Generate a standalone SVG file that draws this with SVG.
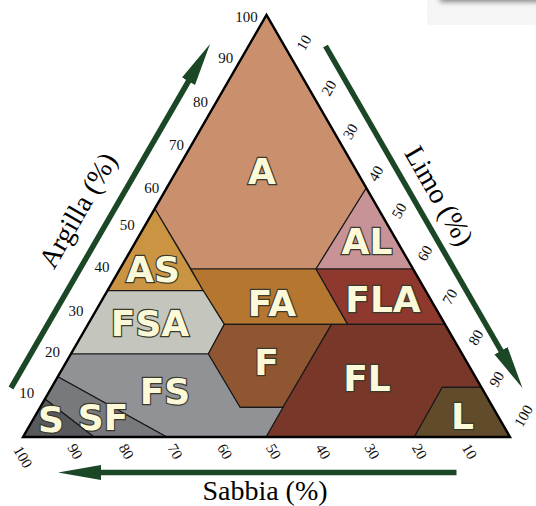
<svg xmlns="http://www.w3.org/2000/svg" width="536" height="506" viewBox="0 0 536 506">
<defs>
<style>
.reg{stroke:#1a1a1a;stroke-width:1.2;stroke-linejoin:round}
.lbl{font-family:"DejaVu Sans","Liberation Sans",sans-serif;font-weight:bold;font-size:36px;fill:#fbf9d8;stroke:#3b3a2c;stroke-width:2.4;paint-order:stroke fill;text-anchor:middle}
.tick{font-family:"Liberation Serif","Times New Roman",serif;font-size:15px;fill:#111;text-anchor:middle}
.title{font-family:"Liberation Serif","Times New Roman",serif;font-size:28px;fill:#000;text-anchor:middle}
.arr{stroke:#1b4727;stroke-width:5.5;fill:none;marker-end:url(#ah)}
</style>
<marker id="ah" markerUnits="userSpaceOnUse" orient="auto" markerWidth="44" markerHeight="16" refX="13" refY="7.5" viewBox="0 0 44 15">
<path d="M0,0 L43,7.5 L0,15 Z" fill="#1b4727"/>
</marker>
<clipPath id="tri"><polygon points="23,437 510,437 266.5,15"/></clipPath>
<filter id="blur" x="-20%" y="-100%" width="140%" height="300%"><feGaussianBlur stdDeviation="2.5"/></filter>
</defs>
<rect width="536" height="506" fill="#fff"/>
<g id="corner-artifact">
<rect x="427" y="0" width="109" height="25" rx="3" fill="#f5f5f5"/>
<rect x="440" y="-12" width="110" height="14" fill="#8a8a8a" filter="url(#blur)"/>
</g>
<g clip-path="url(#tri)">
<g id="A"><polygon class="reg" fill="#ca906e" points="266.5,15 155,209 191,269 316,269 366.3,188"/><text class="lbl" x="262" y="184">A</text></g>
<g id="AL"><polygon class="reg" fill="#c89396" points="366.3,188 316,269 413.1,269"/><text class="lbl" x="367" y="254">AL</text></g>
<g id="AS"><polygon class="reg" fill="#ca9442" points="155,209 107.4,290.7 203.3,290.7"/><text class="lbl" x="153" y="282">AS</text></g>
<g id="FA"><polygon class="reg" fill="#b57730" points="191,269 316,269 347.7,324.4 224.3,324.4 203.3,290.7"/><text class="lbl" x="272" y="315.5">FA</text></g>
<g id="FLA"><polygon class="reg" fill="#8e382e" points="316,269 413.1,269 445.1,324.4 347.7,324.4"/><text class="lbl" x="383" y="311.5">FLA</text></g>
<g id="FSA"><polygon class="reg" fill="#c4c5bc" points="107.4,290.7 203.3,290.7 224.3,324.4 208.3,354 70.9,354"/><text class="lbl" x="150" y="336">FSA</text></g>
<g id="F"><polygon class="reg" fill="#905632" points="224.3,324.4 331.5,324.4 283,407.3 240,407.3 208.3,354"/><text class="lbl" x="266.5" y="375">F</text></g>
<g id="FL"><polygon class="reg" fill="#79372a" points="331.5,324.4 445.1,324.4 481.3,387.3 442.3,387.3 414.3,437 266,437 283,407.3"/><text class="lbl" x="367" y="390.5">FL</text></g>
<g id="L"><polygon class="reg" fill="#624b2b" points="442.3,387.3 481.3,387.3 510,437 414.3,437"/><text class="lbl" x="462.5" y="428.5">L</text></g>
<g id="FS"><polygon class="reg" fill="#919296" points="70.9,354 208.3,354 240,407.3 283,407.3 266,437 166.7,437 57.8,376.7"/><text class="lbl" x="165" y="403.5">FS</text></g>
<g id="SF"><polygon class="reg" fill="#78797d" points="57.8,376.7 166.7,437 94,437 44.9,399"/><text class="lbl" x="103" y="430">SF</text></g>
<g id="S"><polygon class="reg" fill="#58595c" points="44.9,399 94,437 23,437"/><text class="lbl" x="51" y="431.5">S</text></g>
</g>
<polygon id="outline" points="23,437 510,437 266.5,15" fill="none" stroke="#000" stroke-width="2.4" stroke-linejoin="miter"/>
<g id="clay-ticks" class="tick">
<text x="246.5" y="21.5">100</text>
<text x="225.7" y="63">90</text>
<text x="200.5" y="106.7">80</text>
<text x="176.5" y="150.4">70</text>
<text x="151.8" y="192.5">60</text>
<text x="127.2" y="230">50</text>
<text x="102" y="271.7">40</text>
<text x="76" y="316">30</text>
<text x="52.5" y="356.7">20</text>
<text x="26.7" y="398.3">10</text>
</g>
<g id="silt-ticks" class="tick">
<text transform="translate(304,42.7) rotate(-60)" y="5">10</text>
<text transform="translate(329,88) rotate(-60)" y="5">20</text>
<text transform="translate(350.4,131.6) rotate(-60)" y="5">30</text>
<text transform="translate(376,173.5) rotate(-60)" y="5">40</text>
<text transform="translate(399.2,210.8) rotate(-60)" y="5">50</text>
<text transform="translate(425,253.3) rotate(-60)" y="5">60</text>
<text transform="translate(450,296.7) rotate(-60)" y="5">70</text>
<text transform="translate(475.8,337.5) rotate(-60)" y="5">80</text>
<text transform="translate(496.7,379.2) rotate(-60)" y="5">90</text>
<text transform="translate(523.5,416) rotate(-60)" y="5">100</text>
</g>
<g id="sand-ticks" class="tick">
<text transform="translate(23,457) rotate(60)" y="5">100</text>
<text transform="translate(75,451.5) rotate(60)" y="5">90</text>
<text transform="translate(126.3,451.5) rotate(60)" y="5">80</text>
<text transform="translate(175.2,451.5) rotate(60)" y="5">70</text>
<text transform="translate(224.8,451.5) rotate(60)" y="5">60</text>
<text transform="translate(273.5,451.5) rotate(60)" y="5">50</text>
<text transform="translate(323,451.5) rotate(60)" y="5">40</text>
<text transform="translate(372,451.5) rotate(60)" y="5">30</text>
<text transform="translate(419.5,451.5) rotate(60)" y="5">20</text>
<text transform="translate(469.5,451.5) rotate(60)" y="5">10</text>
</g>
<g id="connectors">
<path class="arr" d="M11,388 L195,70"/>
<path class="arr" d="M325.5,46 L507.5,362"/>
<path class="arr" d="M456.5,472.5 L88,472.5"/>
</g>
<g id="titles">
<text class="title" transform="translate(79,211) rotate(-60)" y="8">Argilla (%)</text>
<text class="title" transform="translate(438,196.5) rotate(60)" y="8">Limo (%)</text>
<text class="title" x="265" y="500">Sabbia (%)</text>
</g>
</svg>
